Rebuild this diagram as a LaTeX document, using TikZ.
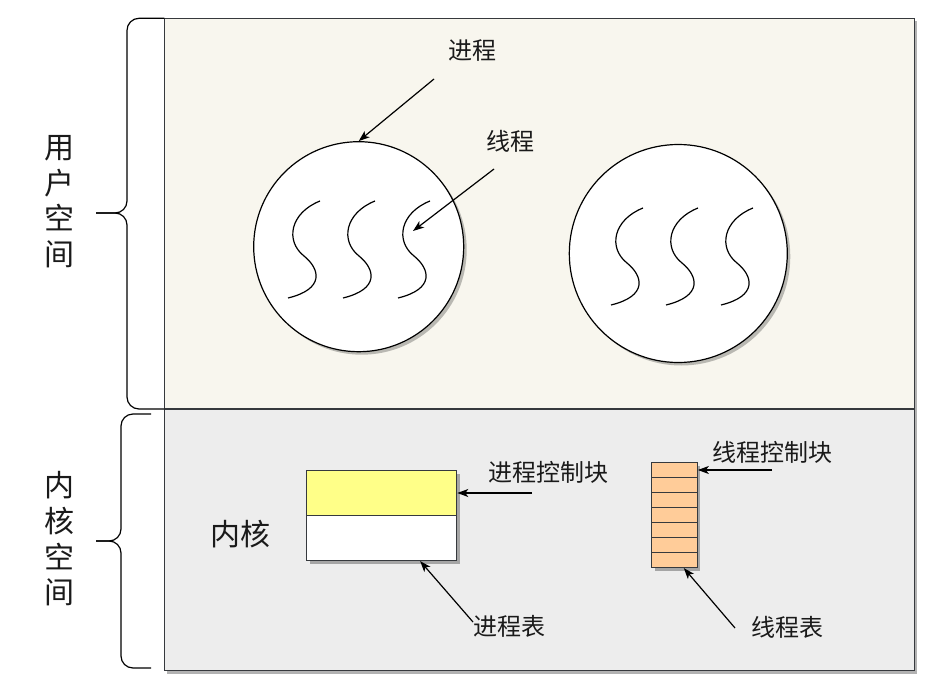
\documentclass[tikz,border=0pt]{standalone}
\usepackage{fontspec}
\setmainfont{Noto Sans CJK SC}
\usepackage{xcolor}
\usepackage{tikz}
\usetikzlibrary{arrows.meta, shadows}
\definecolor{spaceuser}{HTML}{F8F6EE}
\definecolor{spacekernel}{HTML}{EDEDED}
\definecolor{spaceborder}{HTML}{36393D}
\definecolor{pcbyellow}{HTML}{FFFF88}
\definecolor{tcborange}{HTML}{FFCC99}
\definecolor{labelink}{HTML}{1A1A1A}

\begin{document}
\begin{tikzpicture}[
  x=1pt, y=-1pt,
  region/.style={draw=spaceborder, line width=1.3pt, minimum width=750pt, inner sep=0pt, drop shadow={shadow xshift=3pt, shadow yshift=-3pt, fill=black, opacity=0.3}},
  proc/.style={circle, draw=black, line width=1.2pt, fill=white, inner sep=0pt, drop shadow={shadow xshift=3pt, shadow yshift=-3pt, fill=black, opacity=0.25}},
  tblock/.style={draw=spaceborder, line width=1.2pt, minimum width=150pt, minimum height=45pt, inner sep=0pt, drop shadow={shadow xshift=3pt, shadow yshift=-3pt, fill=black, opacity=0.3}},
  trow/.style={draw=spaceborder, line width=1.2pt, fill=tcborange, minimum width=45.5pt, minimum height=15pt, inner sep=0pt, drop shadow={shadow xshift=3pt, shadow yshift=-3pt, fill=black, opacity=0.3}},
  lbl/.style={font=\fontsize{24}{28}\selectfont, text=labelink, inner sep=0pt},
  sidelbl/.style={font=\fontsize{30}{35.7}\selectfont, text=labelink, align=center, inner sep=0pt},
  thread/.style={line width=1.2pt, black},
  brace/.style={line width=1.2pt, black, rounded corners=12pt},
  pointer/.style={-{Stealth[length=11pt, width=8pt, inset=3pt]}, line width=1.2pt, black}
]
\useasboundingbox (0,0) rectangle (937,693);

% Spaces
\node[region, fill=spaceuser, minimum height=390.7pt] (user) at (539.3,213.7) {};
\node[region, fill=spacekernel, minimum height=261.7pt] (kernel) at (539.3,539.8) {};

% Braces
\draw[brace] (164.3,18.3) -- (127,18.3) -- (127,213) -- (96,213);
\draw[brace] (96,213) -- (127,213) -- (127,409) -- (164.3,409);
\draw[brace] (151,414) -- (121,414) -- (121,541) -- (96,541);
\draw[brace] (96,541) -- (121,541) -- (121,668) -- (151,668);

\node[sidelbl] (userlbl) at (59,201.5) {用\\户\\空\\间};
\node[sidelbl] (kernellbl) at (59.5,539) {内\\核\\空\\间};

% Processes with threads
\node[proc, minimum size=210pt] (c1) at (358.7,246.7) {};
\node[proc, minimum size=218pt] (c2) at (678.3,253.5) {};

\draw[thread, shift={(320,201)}] (0,0) .. controls (-30,12) and (-35,40) .. (-16,55) .. controls (0,68) and (5,88) .. (-32,97);
\draw[thread, shift={(375,201)}] (0,0) .. controls (-30,12) and (-35,40) .. (-16,55) .. controls (0,68) and (5,88) .. (-32,97);
\draw[thread, shift={(430,201)}] (0,0) .. controls (-30,12) and (-35,40) .. (-16,55) .. controls (0,68) and (5,88) .. (-32,97);
\draw[thread, shift={(643,208)}] (0,0) .. controls (-30,12) and (-35,40) .. (-16,55) .. controls (0,68) and (5,88) .. (-32,97);
\draw[thread, shift={(698,208)}] (0,0) .. controls (-30,12) and (-35,40) .. (-16,55) .. controls (0,68) and (5,88) .. (-32,97);
\draw[thread, shift={(753,208)}] (0,0) .. controls (-30,12) and (-35,40) .. (-16,55) .. controls (0,68) and (5,88) .. (-32,97);

\node[lbl] (proclbl) at (472,51) {进程};
\node[lbl] (threadlbl) at (510,141) {线程};
\coordinate (proctail) at (434,79);
\coordinate (threadtail) at (494,169);
\coordinate (threadhit) at (413,231);

\draw[pointer] (proctail) -- (c1.north);
\draw[pointer] (threadtail) -- (threadhit);

% Kernel tables
\node[lbl, font=\fontsize{30}{34}\selectfont] (kernlbl) at (240.5,534) {内核};

\node[tblock, fill=pcbyellow] (pcb) at (381.7,493) {};
\node[tblock, fill=white] (ptab) at (381.7,538) {};

\node[trow] (tr1) at (674.5,470) {};
\node[trow] (tr2) at (674.5,485) {};
\node[trow] (tr3) at (674.5,500) {};
\node[trow] (tr4) at (674.5,515) {};
\node[trow] (tr5) at (674.5,530) {};
\node[trow] (tr6) at (674.5,545) {};
\node[trow] (tr7) at (674.5,560) {};

\node[lbl] (pcblbl) at (548,472) {进程控制块};
\node[lbl] (ptablbl) at (509.5,626) {进程表};
\node[lbl] (tcblbl) at (772.5,452) {线程控制块};
\node[lbl] (ttablbl) at (787,627) {线程表};
\coordinate (pcbtail) at (532,493);
\coordinate (ptabtail) at (473,622);
\coordinate (tcbtail) at (772,470);
\coordinate (ttabtail) at (735,628);

\draw[pointer] (pcbtail) -- (pcb.east);
\draw[pointer] (ptabtail) -- (ptab.-31);
\draw[pointer] (tcbtail) -- (tr1.east);
\draw[pointer] (ttabtail) -- (tr7.-41);

\end{tikzpicture}
\end{document}
